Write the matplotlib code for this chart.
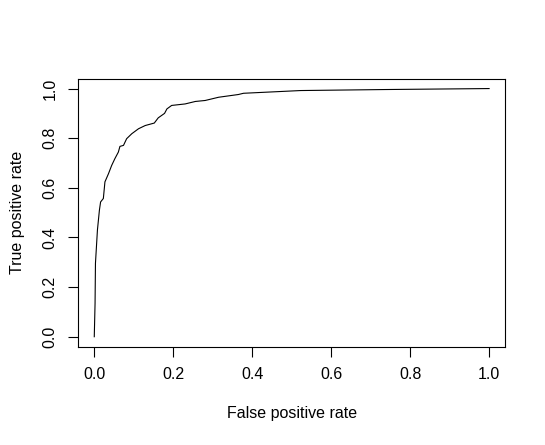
import matplotlib
matplotlib.use('Agg')
import matplotlib.pyplot as plt

# ROC curve points
fpr = [0.0, 0.002, 0.003, 0.008, 0.013, 0.016, 0.023, 0.027, 0.036, 0.044,
       0.052, 0.061, 0.065, 0.074, 0.082, 0.095, 0.112, 0.129, 0.152, 0.162,
       0.178, 0.184, 0.196, 0.23, 0.256, 0.281, 0.315, 0.365, 0.378, 0.523,
       0.733, 1.0]
tpr = [0.0, 0.135, 0.296, 0.43, 0.51, 0.543, 0.557, 0.624, 0.657, 0.69,
       0.717, 0.744, 0.767, 0.771, 0.798, 0.818, 0.838, 0.851, 0.861, 0.882,
       0.9, 0.918, 0.932, 0.938, 0.948, 0.952, 0.965, 0.976, 0.981, 0.992,
       0.996, 1.0]
ticks = [0.0, 0.2, 0.4, 0.6, 0.8, 1.0]
tick_labels = ['0.0', '0.2', '0.4', '0.6', '0.8', '1.0']

plt.rcParams['font.family'] = ['Liberation Sans', 'DejaVu Sans']

fig = plt.figure(figsize=(5.45, 4.45), dpi=100)
ax = fig.add_axes([0.144, 0.221, 0.7824, 0.6023])
ax.plot(fpr, tpr, color='black', linewidth=0.8)

ax.set_xlim(-0.04, 1.04)
ax.set_ylim(-0.04, 1.04)
ax.set_xticks(ticks)
ax.set_xticklabels(tick_labels, fontsize=11.5)
ax.set_yticks(ticks)
ax.set_yticklabels(tick_labels, fontsize=11.5, rotation=90, va='center')
ax.tick_params(direction='out', length=7, width=0.8, pad=8)
for s in ax.spines.values():
    s.set_linewidth(0.8)

ax.set_xlabel('False positive rate', fontsize=11.5, labelpad=17)
ax.set_ylabel('True positive rate', fontsize=11.5, labelpad=13)

fig.savefig('out.png', dpi=100)
